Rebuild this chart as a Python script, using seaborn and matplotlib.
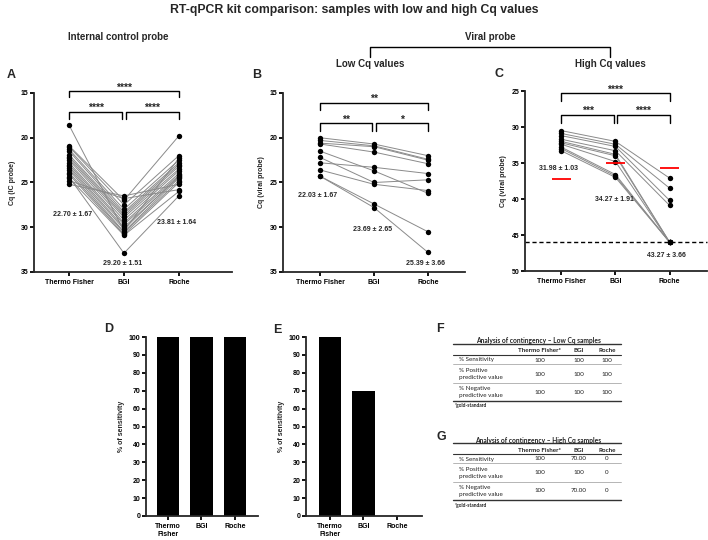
import numpy as np
import pandas as pd
import matplotlib.pyplot as plt
import seaborn as sns

W, H = 708, 540

kits = ["Thermo Fisher", "BGI", "Roche"]
bar_kits = ["Thermo\nFisher", "BGI", "Roche"]

# A: internal control probe, 20 paired samples
ic_thermo = [18.6, 20.9, 21.0, 21.3, 21.5, 21.9, 22.1, 22.3, 22.5, 22.8,
             23.0, 23.2, 23.4, 23.6, 23.9, 24.1, 24.4, 24.5, 24.8, 25.2]
ic_bgi = [30.4, 27.0, 27.5, 28.0, 28.3, 28.5, 28.7, 28.9, 29.2, 29.5,
          29.7, 30.0, 30.2, 30.5, 30.6, 30.8, 32.9, 30.9, 26.8, 26.5]
ic_roche = [22.3, 19.8, 22.0, 22.5, 22.8, 23.0, 23.2, 23.5, 23.7, 24.0,
            24.2, 24.4, 24.3, 24.5, 24.8, 25.0, 26.5, 26.0, 25.8, 25.2]
ic_stats = ["22.70 ± 1.67", "29.20 ± 1.51", "23.81 ± 1.64"]

# B: viral probe, low Cq samples
low_thermo = [20.0, 20.3, 20.6, 20.7, 21.5, 22.2, 22.8, 23.6, 24.3, 24.3]
low_bgi = [20.7, 20.9, 21.0, 21.6, 23.7, 25.0, 23.3, 25.2, 27.4, 27.8]
low_roche = [22.0, 22.4, 22.5, 22.9, 26.2, 24.7, 24.0, 25.9, 30.5, 32.8]
low_stats = ["22.03 ± 1.67", "23.69 ± 2.65", "25.39 ± 3.66"]

# C: viral probe, high Cq samples
high_thermo = [30.5, 30.9, 31.2, 31.7, 32.0, 32.2, 32.4, 32.8, 33.0, 33.3]
high_bgi = [32.0, 32.4, 32.7, 33.3, 33.8, 34.0, 34.8, 36.6, 36.8, 37.0]
high_roche = [37.1, 38.5, 40.2, 40.9, 46.0, 46.0, 46.0, 46.0, 46.0, 46.0]
high_stats = ["31.98 ± 1.03", "34.27 ± 1.91", "43.27 ± 3.66"]
high_cutoffs = [37.2, 35.0, 35.7]
detection_limit = 46

# D / E: sensitivity
sens_low = [100, 100, 100]
sens_high = [100, 70, 0]

# F / G: contingency tables
row_names = ["% Sensitivity", "% Positive\npredictive value", "% Negative\npredictive value"]
col_names = ["Thermo Fisher*", "BGI", "Roche"]
table_low = [["100", "100", "100"], ["100", "100", "100"], ["100", "100", "100"]]
table_high = [["100", "70.00", "0"], ["100", "100", "0"], ["100", "70.00", "0"]]

sns.set_theme(style="ticks")
plt.rcParams["font.family"] = ["Liberation Sans", "DejaVu Sans"]
plt.rcParams["font.weight"] = "bold"
plt.rcParams["axes.linewidth"] = 1.3
plt.rcParams["xtick.major.width"] = 1.3
plt.rcParams["ytick.major.width"] = 1.3
plt.rcParams["xtick.major.size"] = 3
plt.rcParams["ytick.major.size"] = 3
plt.rcParams["xtick.major.pad"] = 2
plt.rcParams["ytick.major.pad"] = 1

fig = plt.figure(figsize=(W / 100, H / 100), dpi=100)


def px(x0, y0, x1, y1):
    return [x0 / W, 1 - y1 / H, (x1 - x0) / W, (y1 - y0) / H]


def style(ax, fs=5):
    sns.despine(ax=ax)
    ax.tick_params(labelsize=fs, colors="black")
    for lab in ax.get_xticklabels() + ax.get_yticklabels():
        lab.set_fontweight("bold")
    ax.set_xlabel("")


def bracket(ax, x0, x1, y, drop, text):
    ax.plot([x0, x0, x1, x1], [y + drop, y, y, y + drop], color="black", lw=1.0, clip_on=False)
    ax.annotate(text, ((x0 + x1) / 2, y), xytext=(0, 0.5), textcoords="offset points",
                ha="center", va="baseline", fontsize=7.5, fontweight="bold", annotation_clip=False)


def paired_panel(rect, a, b, c, ylim, yticks, xlim, ylabel, stats, stat_xy):
    ax = fig.add_axes(px(*rect))
    n = len(a)
    df = pd.DataFrame({"sample": np.tile(np.arange(n), 3),
                       "kit": np.repeat(kits, n),
                       "cq": a + b + c})
    sns.lineplot(data=df, x="kit", y="cq", units="sample", estimator=None, sort=False,
                 color="#8a8a8a", lw=0.7, ax=ax)
    sns.scatterplot(data=df, x="kit", y="cq", color="black", s=15, linewidth=0, ax=ax, zorder=3)
    ax.set_ylim(*ylim)
    ax.set_yticks(yticks)
    ax.set_xlim(*xlim)
    ax.set_ylabel(ylabel, fontsize=5, fontweight="bold", labelpad=3)
    for s, (x, y) in zip(stats, stat_xy):
        ax.text(x, y, s, ha="center", va="center", fontsize=5, fontweight="bold")
    style(ax)
    return ax


# A
axA = paired_panel((34, 93, 232, 272), ic_thermo, ic_bgi, ic_roche, (35, 15), [15, 20, 25, 30, 35],
                   (-0.64, 2.97), "Cq (IC probe)", ic_stats,
                   [(0.07, 28.6), (0.98, 34.1), (1.96, 29.5)])
bracket(axA, 0, 2, 14.8, 0.7, "****")
bracket(axA, 0, 0.97, 17.1, 0.8, "****")
bracket(axA, 1.03, 2, 17.1, 0.8, "****")

# B
axB = paired_panel((283, 93, 465, 272), low_thermo, low_bgi, low_roche, (35, 15), [15, 20, 25, 30, 35],
                   (-0.69, 2.69), "Cq (viral probe)", low_stats,
                   [(-0.05, 26.5), (0.98, 30.2), (1.96, 34.0)])
bracket(axB, 0, 2, 16.1, 0.8, "**")
bracket(axB, 0, 0.97, 18.4, 0.8, "**")
bracket(axB, 1.03, 2, 18.4, 0.8, "*")

# C
axC = paired_panel((525, 91, 707, 271), high_thermo, high_bgi, high_roche, (50, 25), [25, 30, 35, 40, 45, 50],
                   (-0.67, 2.69), "Cq (viral probe)", high_stats,
                   [(-0.05, 35.8), (0.98, 40.1), (1.94, 47.8)])
axC.axhline(detection_limit, color="black", lw=1.0, ls=(0, (3, 2)), clip_on=False)
axC.hlines(high_cutoffs, np.arange(3) - 0.17, np.arange(3) + 0.17, color="red", lw=1.3, zorder=4)
bracket(axC, 0, 2, 25.3, 1.1, "****")
bracket(axC, 0, 0.97, 28.3, 1.1, "***")
bracket(axC, 1.03, 2, 28.3, 1.1, "****")


def bar_panel(rect, vals, xlim):
    ax = fig.add_axes(px(*rect))
    sns.barplot(x=bar_kits, y=vals, color="black", saturation=1, width=0.66, linewidth=0, ax=ax)
    ax.set_ylim(0, 100)
    ax.set_yticks(range(0, 101, 10))
    ax.set_xlim(*xlim)
    ax.set_ylabel("% of sensitivity", fontsize=5, fontweight="bold", labelpad=3)
    style(ax)
    return ax


bar_panel((146, 337, 258, 516), sens_low, (-0.66, 2.69))
bar_panel((306, 337, 422, 516), sens_high, (-0.72, 2.75))

# overlay for headers, letters and tables (pixel coordinates)
ov = fig.add_axes([0, 0, 1, 1])
ov.set_xlim(0, W)
ov.set_ylim(H, 0)
ov.axis("off")
ov.patch.set_alpha(0)

ov.text(354, 10, "RT-qPCR kit comparison: samples with low and high Cq values",
        ha="center", va="center", fontsize=8.8, fontweight="bold")
ov.text(118, 37, "Internal control probe", ha="center", va="center", fontsize=7, fontweight="bold")
ov.text(490, 37, "Viral probe", ha="center", va="center", fontsize=7, fontweight="bold")
ov.plot([370, 370, 610, 610], [57, 47, 47, 57], color="black", lw=1.0)
ov.text(370, 64, "Low Cq values", ha="center", va="center", fontsize=7, fontweight="bold")
ov.text(610, 64, "High Cq values", ha="center", va="center", fontsize=7, fontweight="bold")

for letter, (x, y) in zip("ABCDEFG", [(11, 75), (257, 75), (499, 74), (109, 329),
                                      (277, 330), (440, 329), (441, 437)]):
    ov.text(x, y, letter, ha="center", va="center", fontsize=9, fontweight="bold")


def draw_table(top, title, values):
    tf = dict(family=["Lato", "DejaVu Sans"], fontsize=4.5, color="#222222")
    x0, x1 = 453, 621
    cols = [540, 579, 607]
    ov.text(538, top - 3, title, ha="center", va="center", fontweight="bold", **{**tf, "fontsize": 4.8})
    ov.plot([x0, x1], [top, top], color="#333333", lw=1.0)
    for cx, name in zip(cols, col_names):
        ov.text(cx, top + 7, name, ha="center", va="center", fontweight="bold", **tf)
    ov.plot([x0, x1], [top + 11, top + 11], color="#333333", lw=0.8)
    row_y = [top + 16, top + 30, top + 48]
    for ry, name, vals in zip(row_y, row_names, values):
        ov.text(459, ry, name, ha="left", va="center", fontweight="normal", linespacing=1.6, **tf)
        for cx, v in zip(cols, vals):
            ov.text(cx, ry, v, ha="center", va="center", fontweight="normal", **tf)
    for ly in [top + 20, top + 39]:
        ov.plot([x0, x1], [ly, ly], color="#aaaaaa", lw=0.6)
    ov.plot([x0, x1], [top + 57, top + 57], color="#333333", lw=1.0)
    ov.text(455, top + 62, "*gold-standard", ha="left", va="center", fontweight="bold",
            **{**tf, "fontsize": 3.5})


draw_table(344, "Analysis of contingency \u2013 Low Cq samples", table_low)
draw_table(443, "Analysis of contingency \u2013 High Cq samples", table_high)

fig.savefig("out.png", dpi=100)
